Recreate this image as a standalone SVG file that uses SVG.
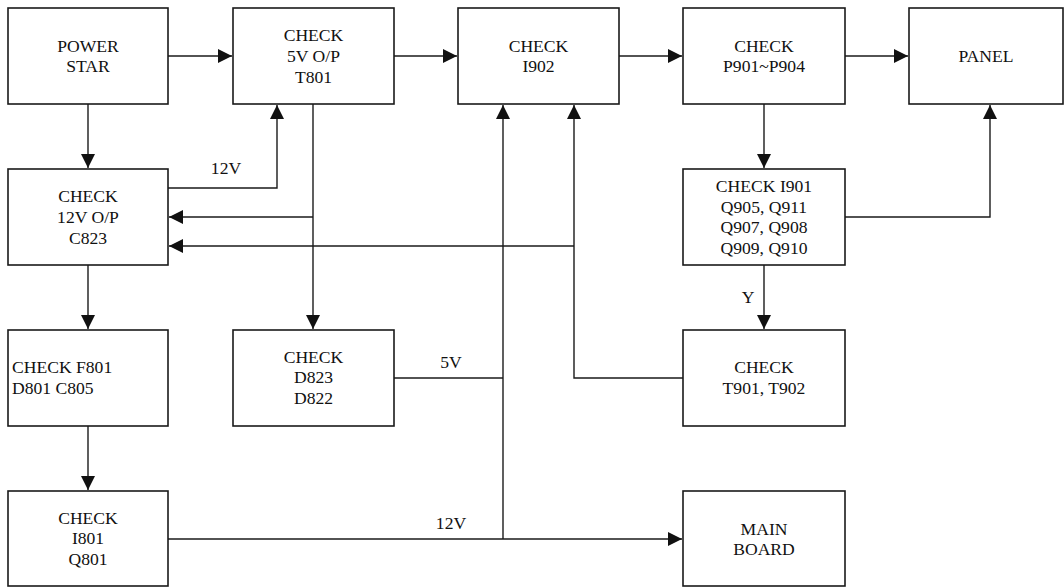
<svg xmlns="http://www.w3.org/2000/svg" width="1064" height="587" viewBox="0 0 1064 587">
<style>
.box{fill:#fff;stroke:#1a1a1a;stroke-width:1.6}
.t{font-family:"Liberation Serif","Times New Roman",serif;font-size:17.6px;fill:#111;text-anchor:middle}
.l{text-anchor:start}
.c{fill:none;stroke:#1a1a1a;stroke-width:1.4}
</style>
<defs>
<marker id="ah" markerUnits="userSpaceOnUse" markerWidth="15" markerHeight="15" refX="14" refY="7" orient="auto">
<path d="M0,0 L14,7 L0,14 Z" fill="#111"/>
</marker>
</defs>
<rect width="1064" height="587" fill="#fff"/>
<g id="connectors">
<path class="c" d="M168,56 H232" marker-end="url(#ah)"/>
<path class="c" d="M394,56 H457" marker-end="url(#ah)"/>
<path class="c" d="M619,56 H682" marker-end="url(#ah)"/>
<path class="c" d="M845,56 H908" marker-end="url(#ah)"/>
<path class="c" d="M88,104 V168" marker-end="url(#ah)"/>
<path class="c" d="M168,188 H277 V105" marker-end="url(#ah)"/>
<path class="c" d="M313,104 V329" marker-end="url(#ah)"/>
<path class="c" d="M313,217 H169" marker-end="url(#ah)"/>
<path class="c" d="M574,246 H169" marker-end="url(#ah)"/>
<path class="c" d="M88,265 V329" marker-end="url(#ah)"/>
<path class="c" d="M88,426 V490" marker-end="url(#ah)"/>
<path class="c" d="M764,104 V168" marker-end="url(#ah)"/>
<path class="c" d="M845,217 H990 V105" marker-end="url(#ah)"/>
<path class="c" d="M764,265 V329" marker-end="url(#ah)"/>
<path class="c" d="M683,378 H574 V105" marker-end="url(#ah)"/>
<path class="c" d="M394,378 H503"/>
<path class="c" d="M168,539 H682" marker-end="url(#ah)"/>
<path class="c" d="M503,539 V105" marker-end="url(#ah)"/>
<text class="t" x="226" y="174">12V</text>
<text class="t" x="451" y="368">5V</text>
<text class="t" x="451" y="529">12V</text>
<text class="t" x="748" y="303">Y</text>
</g>
<g id="power_star">
<rect class="box" x="8" y="8" width="160" height="96"/>
<text class="t" x="88" y="51.6">POWER</text>
<text class="t" x="88" y="72.4">STAR</text>
</g>
<g id="check_5v">
<rect class="box" x="233" y="8" width="161" height="96"/>
<text class="t" x="313.5" y="41.1">CHECK</text>
<text class="t" x="313.5" y="61.9">5V O/P</text>
<text class="t" x="313.5" y="82.7">T801</text>
</g>
<g id="check_i902">
<rect class="box" x="458" y="8" width="161" height="96"/>
<text class="t" x="538.5" y="51.6">CHECK</text>
<text class="t" x="538.5" y="72.4">I902</text>
</g>
<g id="check_p901">
<rect class="box" x="683" y="8" width="162" height="96"/>
<text class="t" x="764" y="51.6">CHECK</text>
<text class="t" x="764" y="72.4">P901~P904</text>
</g>
<g id="panel">
<rect class="box" x="909" y="8" width="154" height="96"/>
<text class="t" x="986" y="62">PANEL</text>
</g>
<g id="check_12v">
<rect class="box" x="8" y="169" width="160" height="96"/>
<text class="t" x="88" y="202.1">CHECK</text>
<text class="t" x="88" y="222.9">12V O/P</text>
<text class="t" x="88" y="243.7">C823</text>
</g>
<g id="check_i901">
<rect class="box" x="683" y="169" width="162" height="96"/>
<text class="t" x="764" y="191.7">CHECK I901</text>
<text class="t" x="764" y="212.5">Q905, Q911</text>
<text class="t" x="764" y="233.3">Q907, Q908</text>
<text class="t" x="764" y="254.1">Q909, Q910</text>
</g>
<g id="check_f801">
<rect class="box" x="8" y="330" width="160" height="96"/>
<text class="t l" x="12" y="373.3">CHECK F801</text>
<text class="t l" x="12" y="394.1">D801 C805</text>
</g>
<g id="check_d823">
<rect class="box" x="233" y="330" width="161" height="96"/>
<text class="t" x="313.5" y="362.5">CHECK</text>
<text class="t" x="313.5" y="383.3">D823</text>
<text class="t" x="313.5" y="404.1">D822</text>
</g>
<g id="check_t901">
<rect class="box" x="683" y="330" width="162" height="96"/>
<text class="t" x="764" y="373.3">CHECK</text>
<text class="t" x="764" y="394.1">T901, T902</text>
</g>
<g id="check_i801">
<rect class="box" x="8" y="491" width="160" height="95"/>
<text class="t" x="88" y="523.5">CHECK</text>
<text class="t" x="88" y="544.3">I801</text>
<text class="t" x="88" y="565.1">Q801</text>
</g>
<g id="main_board">
<rect class="box" x="683" y="491" width="162" height="95"/>
<text class="t" x="764" y="534.5">MAIN</text>
<text class="t" x="764" y="555.3">BOARD</text>
</g>
</svg>
